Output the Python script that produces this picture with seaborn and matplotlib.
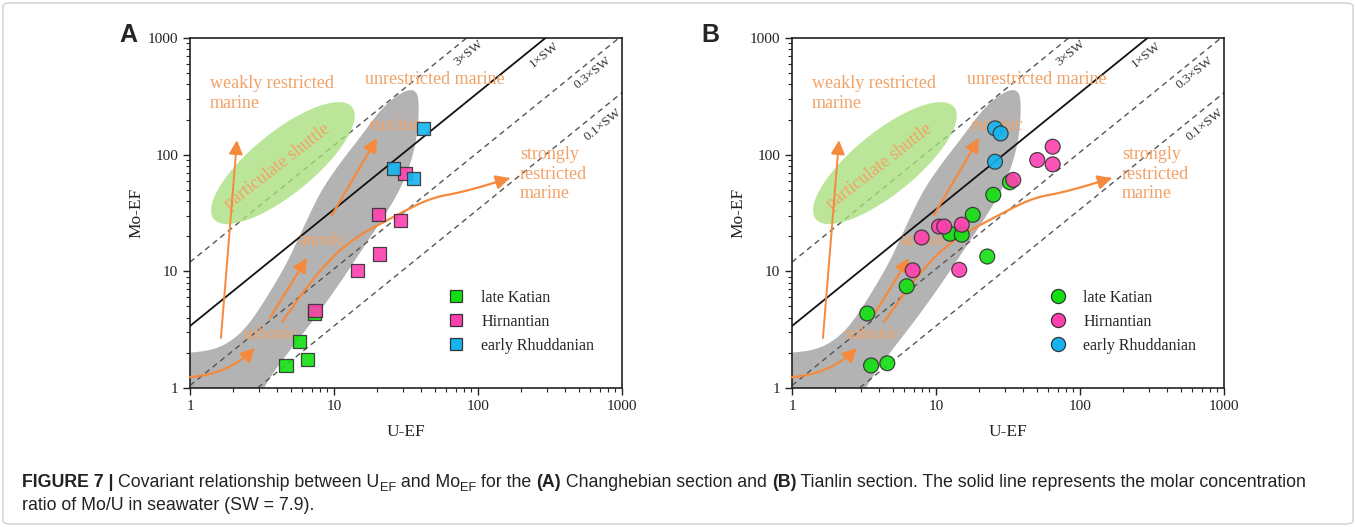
import numpy as np
import pandas as pd
import matplotlib
matplotlib.use('Agg')
import matplotlib.pyplot as plt
import matplotlib.ticker as mticker
import matplotlib.transforms as mtransforms
from matplotlib.lines import Line2D
from matplotlib.patches import FancyBboxPatch
import seaborn as sns

# ---------------- data ----------------
GROUPS = ['late Katian', 'Hirnantian', 'early Rhuddanian']

# Panel A - Changhebian section (squares)
a_katian_u = [4.64, 6.57, 5.74, 7.3]
a_katian_mo = [1.56, 1.75, 2.52, 4.4]
a_hirn_u = [7.38, 14.6, 20.6, 20.3, 29.0, 31.1]
a_hirn_mo = [4.6, 10.2, 14.1, 30.5, 27.3, 69.2]
a_rhud_u = [25.8, 35.5, 41.7]
a_rhud_mo = [76.4, 62.7, 168]

# Panel B - Tianlin section (circles)
b_katian_u = [3.54, 4.59, 3.33, 6.26, 12.5, 15.1, 18.0, 22.7, 25.0, 32.6]
b_katian_mo = [1.56, 1.63, 4.35, 7.45, 21.0, 20.6, 30.5, 13.4, 45.3, 58.0]
b_hirn_u = [6.89, 7.95, 10.5, 11.4, 15.1, 14.5, 34.4, 50.5, 64.6, 64.6]
b_hirn_mo = [10.2, 19.5, 24.2, 24.2, 25.1, 10.3, 60.8, 90.0, 117, 82.6]
b_rhud_u = [25.7, 25.7, 28.1]
b_rhud_mo = [87.0, 168, 152]

# seawater Mo/U reference lines (Mo_EF / U_EF)
sw_labels = ['3×SW', '1×SW', '0.3×SW', '0.1×SW']
sw_ratio = [12.0, 3.4, 1.05, 0.34]
sw_label_u = [86, 290, 625, 735]
sw_label_mo = [750, 720, 500, 182]

# grey field boundary (U_EF, Mo_EF)
field_u = [0.8, 0.8, 1.0, 1.44, 1.90, 2.49, 3.43, 4.72, 5.81, 8.0, 11.0, 15.2, 20.9, 27.4,
           33.7, 37.7, 38.9, 38.3, 34.8, 28.7, 22.6, 15.6, 11.0, 7.38, 4.95, 3.48, 3.0]
field_mo = [0.8, 2.0, 2.0, 2.12, 2.48, 3.33, 6.02, 11.8, 20.5, 47.8, 84.7, 141, 241, 324,
            365, 344, 277, 162, 89.9, 49.7, 30.4, 15.2, 7.94, 3.98, 2.12, 1.17, 0.8]

# particulate shuttle ellipse centre (U_EF, Mo_EF)
shuttle_center = (4.42, 84.7)

# long "strongly restricted" arrow path
long_arrow_u = [4.35, 7.62, 12.9, 25.7, 46.4, 78.7, 167]
long_arrow_mo = [3.68, 9.67, 18.5, 29.2, 42.5, 47.8, 63.0]

XTICKS = [1, 10, 100, 1000]

# ---------------- style ----------------
sns.set_style('ticks')
plt.rcParams['font.family'] = ['Liberation Serif', 'DejaVu Serif']
plt.rcParams['axes.edgecolor'] = '#222222'

PAL = {'late Katian': '#10e010', 'Hirnantian': '#ff3fae', 'early Rhuddanian': '#14b4f0'}
ORANGE_T = '#f2a266'
ORANGE_A = '#f58a3c'

W, H = 1356, 527
fig = plt.figure(figsize=(W / 100, H / 100), dpi=100)
axA = fig.add_axes([190 / W, 1 - 388 / H, 432 / W, 350 / H])
axB = fig.add_axes([792 / W, 1 - 388 / H, 432 / W, 350 / H])


def chaikin(pts, n=3, closed=True):
    pts = np.asarray(pts, float)
    for _ in range(n):
        if closed:
            p0, p1 = pts, np.roll(pts, -1, axis=0)
            q = 0.75 * p0 + 0.25 * p1
            r = 0.25 * p0 + 0.75 * p1
            pts = np.empty((2 * len(p0), 2))
            pts[0::2], pts[1::2] = q, r
        else:
            p0, p1 = pts[:-1], pts[1:]
            q = 0.75 * p0 + 0.25 * p1
            r = 0.25 * p0 + 0.75 * p1
            mid = np.empty((2 * len(p0), 2))
            mid[0::2], mid[1::2] = q, r
            pts = np.vstack([pts[:1], mid, pts[-1:]])
    return pts


def make_df(ku, kmo, hu, hmo, ru, rmo):
    return pd.DataFrame({
        'U-EF': list(ku) + list(hu) + list(ru),
        'Mo-EF': list(kmo) + list(hmo) + list(rmo),
        'stage': [GROUPS[0]] * len(ku) + [GROUPS[1]] * len(hu) + [GROUPS[2]] * len(ru),
    })


def draw_panel(ax, df, marker, msize):
    ax.set_xscale('log')
    ax.set_yscale('log')
    ax.set_xlim(1, 1000)
    ax.set_ylim(1, 1000)

    # grey field
    lg = np.column_stack([np.log10(field_u), np.log10(field_mo)])
    sm = 10 ** chaikin(lg, 3, closed=True)
    ax.fill(sm[:, 0], sm[:, 1], color='#b3b3b3', lw=0, zorder=1)

    # reference lines
    xs = np.array([1.0, 1000.0])
    for lab, r, lu, lm in zip(sw_labels, sw_ratio, sw_label_u, sw_label_mo):
        if lab == '1×SW':
            sns.lineplot(x=xs, y=r * xs, ax=ax, color='#111111', lw=1.3, zorder=3)
        else:
            ax.plot(xs, r * xs, color='#555555', lw=1.0, ls=(0, (4, 3)), zorder=2)
        p1 = ax.transData.transform((1, r))
        p2 = ax.transData.transform((10, 10 * r))
        ang = np.degrees(np.arctan2(p2[1] - p1[1], p2[0] - p1[0]))
        ax.text(lu, lm, lab, rotation=ang, ha='center', va='center', fontsize=9.5,
                color='#333333', rotation_mode='anchor', zorder=3)

    # particulate-shuttle ellipse (built in display space, mapped back to data)
    c = ax.transData.transform(shuttle_center)
    t = np.linspace(0, 2 * np.pi, 200)
    th = np.radians(39)
    a, b = 89, 31
    ex = c[0] + a * np.cos(t) * np.cos(th) - b * np.sin(t) * np.sin(th)
    ey = c[1] + a * np.cos(t) * np.sin(th) + b * np.sin(t) * np.cos(th)
    ed = ax.transData.inverted().transform(np.column_stack([ex, ey]))
    ax.fill(ed[:, 0], ed[:, 1], color='#a8e07c', alpha=0.78, lw=0, zorder=2.5)

    # texts
    tk = dict(color=ORANGE_T, fontsize=13, zorder=4)
    ax.text(1.38, 334, 'weakly restricted\nmarine', ha='left', va='center', linespacing=1.25, **tk)
    ax.text(16.4, 444, 'unrestricted marine', ha='left', va='center', **tk)
    ax.text(17.2, 179, 'euxinic', ha='left', va='center', **tk)
    ax.text(4.08, 78.3, 'particulate shuttle', ha='center', va='center', rotation=38, **tk)
    ax.text(8.26, 18.5, 'anoxic', ha='center', va='center', **tk)
    ax.text(3.59, 2.85, 'suboxic', ha='center', va='center', **tk)
    ax.text(196, 68.2, 'strongly\nrestricted\nmarine', ha='left', va='center', linespacing=1.2, **tk)

    # arrows
    ap = dict(arrowstyle='-|>,head_length=0.6,head_width=0.3', color=ORANGE_A, lw=1.6,
              mutation_scale=14, shrinkA=0, shrinkB=0)
    ax.annotate('', xy=(2.12, 133), xytext=(1.64, 2.68), arrowprops=dict(ap, lw=1.4), zorder=5)
    ax.annotate('', xy=(19.9, 139), xytext=(9.68, 30.4), arrowprops=ap, zorder=5)
    ax.annotate('', xy=(6.49, 13.0), xytext=(3.59, 3.98), arrowprops=ap, zorder=5)
    ax.annotate('', xy=(2.83, 2.2), xytext=(1.0, 1.24),
                arrowprops=dict(ap, connectionstyle='arc3,rad=0.18'), zorder=5)
    lp = np.column_stack([np.log10(long_arrow_u), np.log10(long_arrow_mo)])
    cv = 10 ** chaikin(lp, 3, closed=False)
    ax.plot(cv[:-2, 0], cv[:-2, 1], color=ORANGE_A, lw=1.6, zorder=5, solid_capstyle='round')
    ax.annotate('', xy=tuple(cv[-1]), xytext=tuple(cv[-3]), arrowprops=ap, zorder=5)

    # data points
    sns.scatterplot(data=df, x='U-EF', y='Mo-EF', hue='stage', hue_order=GROUPS, palette=PAL,
                    marker=marker, s=msize, edgecolor='#333333', linewidth=0.9, alpha=0.9,
                    legend=False, ax=ax, zorder=6)

    handles = [Line2D([], [], ls='none', marker=marker, markersize=np.sqrt(msize) * 0.95,
                      markerfacecolor=PAL[g], markeredgecolor='#333333', markeredgewidth=0.9)
               for g in GROUPS]
    ax.legend(handles, GROUPS, loc='upper left', bbox_to_anchor=(0.597, 0.28), frameon=False,
              borderaxespad=0, borderpad=0, handlelength=1.0, handletextpad=1.1,
              labelspacing=0.5, prop={'family': 'Liberation Serif', 'size': 11.5})

    # axes cosmetics
    ax.set_xticks(XTICKS)
    ax.set_yticks(XTICKS)
    fmt = mticker.FuncFormatter(lambda v, p: f'{v:g}')
    ax.xaxis.set_major_formatter(fmt)
    ax.yaxis.set_major_formatter(fmt)
    ax.xaxis.set_minor_formatter(mticker.NullFormatter())
    ax.yaxis.set_minor_formatter(mticker.NullFormatter())
    ax.tick_params(which='major', direction='out', length=5, width=1.0, labelsize=11,
                   colors='#222222', top=False, right=False)
    ax.tick_params(which='minor', direction='out', length=3, width=0.8, top=False, right=False)
    for s in ax.spines.values():
        s.set_linewidth(1.2)
        s.set_visible(True)
    ax.set_xlabel('U-EF', fontsize=12.5, labelpad=8, color='#222222')
    ax.set_ylabel('Mo-EF', fontsize=12.5, labelpad=2, color='#222222')


dfA = make_df(a_katian_u, a_katian_mo, a_hirn_u, a_hirn_mo, a_rhud_u, a_rhud_mo)
dfB = make_df(b_katian_u, b_katian_mo, b_hirn_u, b_hirn_mo, b_rhud_u, b_rhud_mo)
draw_panel(axA, dfA, 's', 90)
draw_panel(axB, dfB, 'o', 115)

fig.text(128 / W, 1 - 35 / H, 'A', fontsize=18, fontweight='bold', family='Liberation Sans',
         ha='center', va='center')
fig.text(710 / W, 1 - 35 / H, 'B', fontsize=18, fontweight='bold', family='Liberation Sans',
         ha='center', va='center')

# light border around figure + caption
fig.patches.append(FancyBboxPatch((3 / W, 3 / H), 1 - 6 / W, 1 - 6 / H,
                                  boxstyle='round,pad=0,rounding_size=0.006',
                                  transform=fig.transFigure, fill=False,
                                  edgecolor='#cfcfcf', lw=1.0))

# ---------------- caption ----------------
fig.canvas.draw()
renderer = fig.canvas.get_renderer()
CAP_FAM = ['Liberation Sans Narrow', 'Liberation Sans']
CAP_SIZE = 12.8


def runs(x0, y0, parts):
    x = x0
    for s, kind in parts:
        kw = dict(family=CAP_FAM, color='#222222', va='baseline', ha='left',
                  transform=mtransforms.IdentityTransform())
        if kind == 'b':
            t = fig.text(x, y0, s, fontsize=CAP_SIZE, fontweight='bold', **kw)
        elif kind == 'sub':
            t = fig.text(x, y0 - 4, s, fontsize=CAP_SIZE * 0.72, **kw)
        else:
            t = fig.text(x, y0, s, fontsize=CAP_SIZE, **kw)
        x = t.get_window_extent(renderer).x1


runs(22, H - 487, [('FIGURE 7 | ', 'b'), ('Covariant relationship between U', 'n'), ('EF', 'sub'),
                   (' and Mo', 'n'), ('EF', 'sub'), (' for the ', 'n'), ('(A)', 'b'),
                   (' Changhebian section and ', 'n'), ('(B)', 'b'),
                   (' Tianlin section. The solid line represents the molar concentration', 'n')])
runs(22, H - 510, [('ratio of Mo/U in seawater (SW = 7.9).', 'n')])

fig.savefig('out.png', dpi=100)
